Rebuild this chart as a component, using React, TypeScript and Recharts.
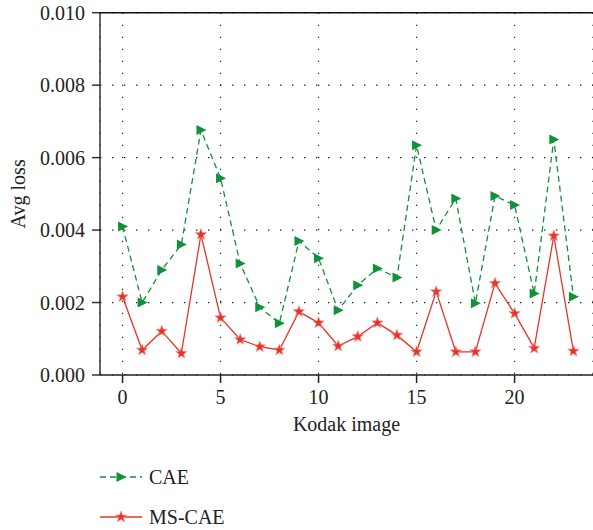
import React from "react";
import {
  LineChart,
  Line,
  XAxis,
  YAxis,
  CartesianGrid,
  ReferenceLine,
  Legend,
} from "recharts";

const images = [0, 1, 2, 3, 4, 5, 6, 7, 8, 9, 10, 11, 12, 13, 14, 15, 16, 17, 18, 19, 20, 21, 22, 23];
const cae = [
  0.0041, 0.002, 0.0029, 0.0036, 0.00676, 0.00543, 0.00308, 0.00187, 0.00143, 0.0037, 0.00322, 0.00179,
  0.00248, 0.00294, 0.00269, 0.00634, 0.004, 0.00487, 0.00198, 0.00494, 0.00469, 0.00225, 0.0065, 0.00216,
];
const msCae = [
  0.00216, 0.00069, 0.00121, 0.0006, 0.00388, 0.00158, 0.00098, 0.00078, 0.00069, 0.00175, 0.00144, 0.0008,
  0.00106, 0.00144, 0.0011, 0.00064, 0.0023, 0.00064, 0.00064, 0.00253, 0.0017, 0.00074, 0.00384, 0.00066,
];
const xTicks = [0, 5, 10, 15, 20];
const yTicks = [0, 0.002, 0.004, 0.006, 0.008, 0.01];

const data = images.map((x, i) => ({ x, cae: cae[i], ms: msCae[i] }));

const GREEN = "#12913a";
const RED = "#e5342a";
const FONT = "Liberation Serif, Times New Roman, DejaVu Serif, serif";

const triangle = (cx: number, cy: number) =>
  `${cx - 4.5},${cy - 5} ${cx + 5.5},${cy} ${cx - 4.5},${cy + 5}`;

const star = (cx: number, cy: number, ro = 6, ri = 2.5) => {
  const pts: string[] = [];
  for (let k = 0; k < 10; k++) {
    const r = k % 2 === 0 ? ro : ri;
    const a = -Math.PI / 2 + (k * Math.PI) / 5;
    pts.push(`${cx + r * Math.cos(a)},${cy + r * Math.sin(a)}`);
  }
  return pts.join(" ");
};

const TriDot = (props: any) => {
  const { cx, cy, index } = props;
  if (cx == null || cy == null) return null;
  return <polygon key={`t${index}`} points={triangle(cx, cy)} fill={GREEN} />;
};

const StarDot = (props: any) => {
  const { cx, cy, index } = props;
  if (cx == null || cy == null) return null;
  return <polygon key={`s${index}`} points={star(cx, cy)} fill={RED} stroke="#f29a90" strokeWidth={0.7} />;
};

const textStyle = { fontFamily: FONT, fontSize: 20, fill: "#222" };

const LegendBox = () => (
  <svg width={300} height={80} style={{ display: "block" }}>
    <line x1={100} y1={22} x2={142} y2={22} stroke={GREEN} strokeWidth={1.3} strokeDasharray="6 4" />
    <polygon points={triangle(121, 22)} fill={GREEN} />
    <text x={149} y={22} dy="0.35em" style={textStyle}>
      CAE
    </text>
    <line x1={100} y1={62} x2={142} y2={62} stroke={RED} strokeWidth={1.3} />
    <polygon points={star(121, 62)} fill={RED} stroke="#f29a90" strokeWidth={0.7} />
    <text x={149} y={62} dy="0.35em" style={textStyle}>
      MS-CAE
    </text>
  </svg>
);

export default function App() {
  return (
    <div style={{ width: 593, height: 530, fontFamily: FONT }}>
      <style>{`body{margin:0} svg text{font-family:"Liberation Serif","Times New Roman",serif}`}</style>
      <LineChart width={593} height={530} data={data} margin={{ top: 12.7, right: 0, bottom: 95, left: 0 }}>
        <CartesianGrid stroke="#222" strokeDasharray="1.4 10.6" strokeWidth={1.2} />
        <XAxis
          dataKey="x"
          type="number"
          domain={[-1.15, 24]}
          ticks={xTicks}
          allowDataOverflow
          height={60}
          stroke="#222"
          strokeWidth={1.5}
          tickSize={8}
          tickMargin={7}
          tick={{ style: textStyle }}
          label={{ value: "Kodak image", position: "insideBottom", offset: 4, style: textStyle }}
        />
        <YAxis
          type="number"
          domain={[0, 0.01]}
          ticks={yTicks}
          width={100}
          stroke="#333"
          strokeWidth={1.5}
          tickSize={8}
          tickMargin={7}
          tick={{ style: textStyle }}
          tickFormatter={(v: number) => v.toFixed(3)}
          label={{
            value: "Avg loss",
            angle: -90,
            position: "insideLeft",
            offset: 18,
            style: { ...textStyle, textAnchor: "middle" },
          }}
        />
        <ReferenceLine y={0.01} stroke="#111" strokeWidth={1.5} />
        <Line
          dataKey="cae"
          stroke={GREEN}
          strokeWidth={1.3}
          strokeDasharray="6 4"
          dot={TriDot}
          activeDot={false}
          isAnimationActive={false}
        />
        <Line
          dataKey="ms"
          stroke={RED}
          strokeWidth={1.3}
          dot={StarDot}
          activeDot={false}
          isAnimationActive={false}
        />
        <Legend
          layout="horizontal"
          verticalAlign="middle"
          align="center"
          content={() => <LegendBox />}
          wrapperStyle={{ top: 455, left: 0, width: 300 }}
        />
      </LineChart>
    </div>
  );
}
